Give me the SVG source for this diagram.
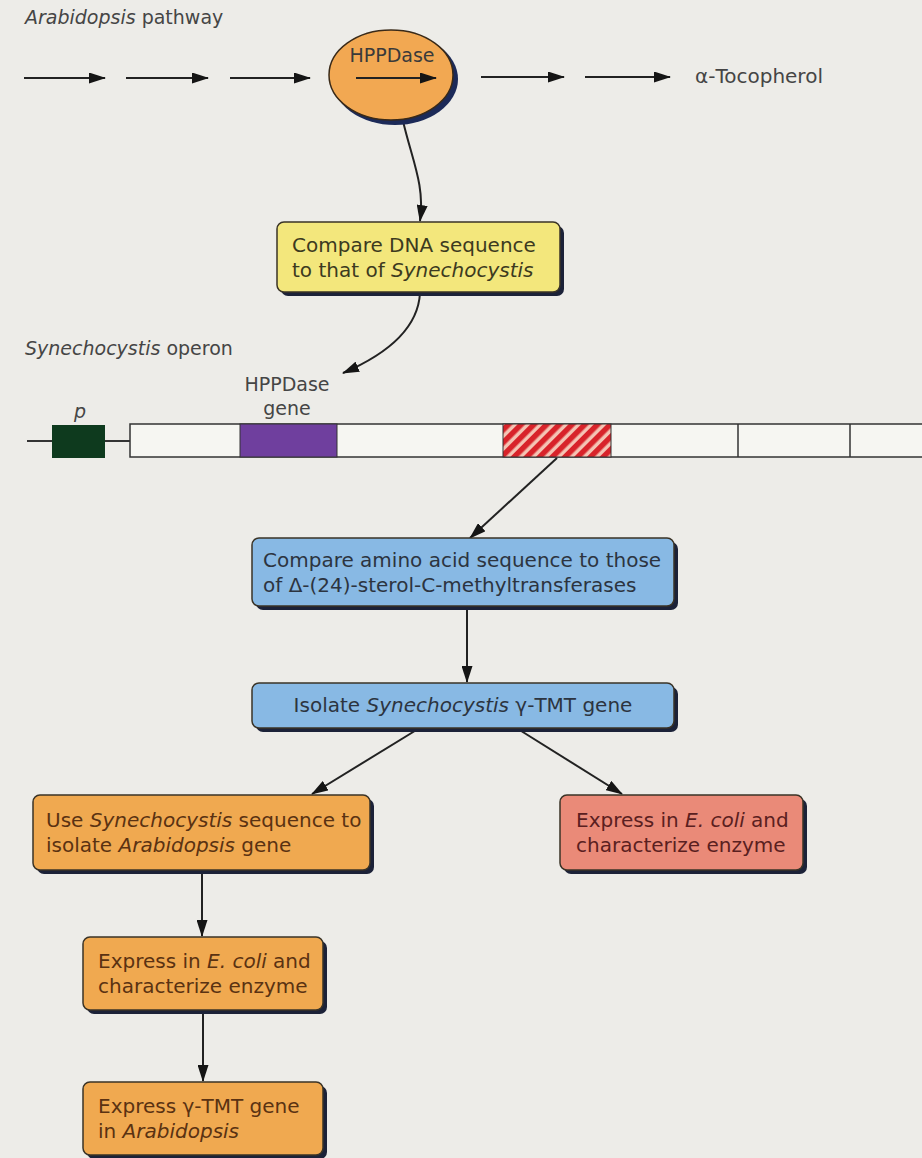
<svg xmlns="http://www.w3.org/2000/svg" width="922" height="1158" viewBox="0 0 922 1158">
<defs>
<marker id="ah" viewBox="0 0 17 11" refX="16" refY="5.5" markerWidth="17" markerHeight="11" markerUnits="userSpaceOnUse" orient="auto">
<path d="M0,0 L17,5.5 L0,11 Z" fill="#151515"/>
</marker>
<pattern id="hatch" width="9" height="9" patternUnits="userSpaceOnUse" patternTransform="rotate(45)">
<rect width="9" height="9" fill="#f4c4b4"/>
<rect width="5.5" height="9" fill="#d8232a"/>
</pattern>
</defs>
<style>
text{font-family:"DejaVu Sans","Liberation Sans",sans-serif;font-size:20px;fill:#3a3a3a}
.it{font-style:italic}
.lbl{font-size:19px;fill:#454545}
.sh{fill:#1c2238}
.box{stroke:#3a3326;stroke-width:1.5}
.yel{fill:#f3e77c}
.blu{fill:#88b9e4}
.org{fill:#f0a950}
.red{fill:#ea8a78}
.tb{fill:#2c3440}
.to{fill:#5a3212}
.tr{fill:#5a2020}
.ty{fill:#3c3a20}
.ln{stroke:#222;stroke-width:2;fill:none}
</style>
<rect width="922" height="1158" fill="#edece8"/>

<text x="25" y="24" class="lbl"><tspan class="it">Arabidopsis</tspan> pathway</text>
<text x="25" y="355" class="lbl"><tspan class="it">Synechocystis</tspan> operon</text>

<g id="connectors">
<line x1="24" y1="78" x2="105" y2="78" class="ln" marker-end="url(#ah)"/>
<line x1="126" y1="78" x2="208" y2="78" class="ln" marker-end="url(#ah)"/>
<line x1="230" y1="78" x2="310" y2="78" class="ln" marker-end="url(#ah)"/>
<line x1="481" y1="77" x2="564" y2="77" class="ln" marker-end="url(#ah)"/>
<line x1="585" y1="77" x2="670" y2="77" class="ln" marker-end="url(#ah)"/>
<path d="M403,121 C412,160 425,185 420,221" class="ln" marker-end="url(#ah)"/>
<path d="M420,293 C418,330 385,355 343,373" class="ln" marker-end="url(#ah)"/>
<line x1="557" y1="458" x2="470" y2="538" class="ln" marker-end="url(#ah)"/>
<line x1="467" y1="607" x2="467" y2="682" class="ln" marker-end="url(#ah)"/>
<line x1="418" y1="729" x2="312" y2="794" class="ln" marker-end="url(#ah)"/>
<line x1="518" y1="729" x2="622" y2="794" class="ln" marker-end="url(#ah)"/>
<line x1="202" y1="870" x2="202" y2="936" class="ln" marker-end="url(#ah)"/>
<line x1="203" y1="1010" x2="203" y2="1081" class="ln" marker-end="url(#ah)"/>
</g>

<g id="hppdase">
<ellipse cx="395" cy="79" rx="63" ry="46" fill="#1c2a58"/>
<ellipse cx="391" cy="75" rx="62" ry="45" fill="#f2a852" stroke="#3a2a18" stroke-width="1.5"/>
<text x="392" y="62" text-anchor="middle" style="font-size:19px">HPPDase</text>
<line x1="356" y1="78" x2="436" y2="78" class="ln" marker-end="url(#ah)"/>
</g>

<g id="tocopherol">
<text x="695" y="83" class="lbl" style="font-size:20px">α-Tocopherol</text>
</g>

<g id="compare-dna">
<rect x="281" y="226" width="283" height="70" rx="7" class="sh"/>
<rect x="277" y="222" width="283" height="70" rx="7" class="box yel"/>
<text x="292" y="252" class="ty">Compare DNA sequence</text>
<text x="292" y="277" class="ty">to that of <tspan class="it">Synechocystis</tspan></text>
</g>

<g id="operon">
<line x1="27" y1="441" x2="130" y2="441" stroke="#333" stroke-width="2"/>
<rect x="52" y="425" width="53" height="33" fill="#0e3a1e"/>
<rect x="130" y="424" width="800" height="33" fill="#f6f6f2" stroke="#333" stroke-width="1.5"/>
<rect x="240" y="424" width="97" height="33" fill="#6f3f9e" stroke="#333" stroke-width="1"/>
<rect x="503" y="424" width="108" height="33" fill="url(#hatch)" stroke="#333" stroke-width="1"/>
<line x1="738" y1="424" x2="738" y2="457" stroke="#333" stroke-width="1.5"/>
<line x1="850" y1="424" x2="850" y2="457" stroke="#333" stroke-width="1.5"/>
<text x="80" y="418" class="it lbl" text-anchor="middle">p</text>
<text x="287" y="391" class="lbl" text-anchor="middle">HPPDase</text>
<text x="287" y="415" class="lbl" text-anchor="middle">gene</text>
</g>

<g id="compare-aa">
<rect x="256" y="542" width="422" height="68" rx="7" class="sh"/>
<rect x="252" y="538" width="422" height="68" rx="7" class="box blu"/>
<text x="263" y="567" class="tb">Compare amino acid sequence to those</text>
<text x="263" y="592" class="tb">of Δ-(24)-sterol-C-methyltransferases</text>
</g>

<g id="isolate-tmt">
<rect x="256" y="687" width="422" height="45" rx="7" class="sh"/>
<rect x="252" y="683" width="422" height="45" rx="7" class="box blu"/>
<text x="463" y="712" class="tb" text-anchor="middle">Isolate <tspan class="it">Synechocystis</tspan> γ-TMT gene</text>
</g>

<g id="use-seq">
<rect x="37" y="799" width="337" height="75" rx="7" class="sh"/>
<rect x="33" y="795" width="337" height="75" rx="7" class="box org"/>
<text x="46" y="827" class="to">Use <tspan class="it">Synechocystis</tspan> sequence to</text>
<text x="46" y="852" class="to">isolate <tspan class="it">Arabidopsis</tspan> gene</text>
</g>

<g id="express-right">
<rect x="564" y="799" width="243" height="75" rx="7" class="sh"/>
<rect x="560" y="795" width="243" height="75" rx="7" class="box red"/>
<text x="576" y="827" class="tr">Express in <tspan class="it">E. coli</tspan> and</text>
<text x="576" y="852" class="tr">characterize enzyme</text>
</g>

<g id="express-left">
<rect x="87" y="941" width="240" height="73" rx="7" class="sh"/>
<rect x="83" y="937" width="240" height="73" rx="7" class="box org"/>
<text x="98" y="968" class="to">Express in <tspan class="it">E. coli</tspan> and</text>
<text x="98" y="993" class="to">characterize enzyme</text>
</g>

<g id="express-tmt">
<rect x="87" y="1086" width="240" height="73" rx="7" class="sh"/>
<rect x="83" y="1082" width="240" height="73" rx="7" class="box org"/>
<text x="98" y="1113" class="to">Express γ-TMT gene</text>
<text x="98" y="1138" class="to">in <tspan class="it">Arabidopsis</tspan></text>
</g>
</svg>
